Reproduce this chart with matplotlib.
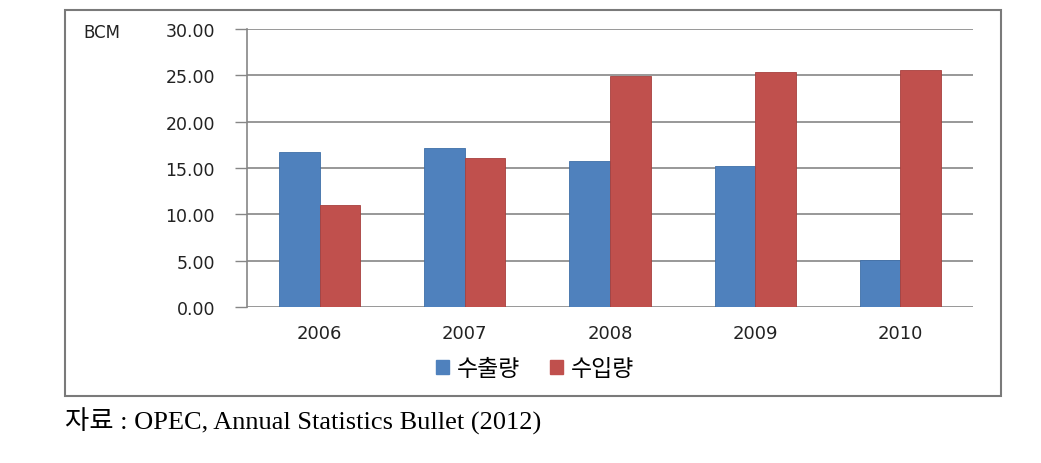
import matplotlib.pyplot as plt
import numpy as np
from matplotlib.patches import Patch, Rectangle

YEARS = ["2006", "2007", "2008", "2009", "2010"]
EXPORTS = [16.76, 17.19, 15.75, 15.17, 5.03]
IMPORTS = [10.97, 16.04, 24.93, 25.36, 25.58]
SERIES_NAMES = ["수출량", "수입량"]
Y_TICKS = [0, 5, 10, 15, 20, 25, 30]
UNIT = "BCM"
SOURCE = "자료 : OPEC, Annual Statistics Bullet (2012)"

BLUE = "#4F81BD"
RED = "#C0504D"
GRID = "#868686"

KR = ["Noto Sans CJK KR", "DejaVu Sans"]
SERIF = ["Liberation Serif", "Noto Sans CJK KR"]

fig = plt.figure(figsize=(10.41, 4.64), dpi=100)
ax = fig.add_axes([247 / 1041, 156 / 464, 726 / 1041, 278 / 464])

x = np.arange(len(YEARS))
w = 0.28
ax.bar(x - w / 2, EXPORTS, w, color=BLUE, edgecolor="#3f6fa8", linewidth=0.6, zorder=3)
ax.bar(x + w / 2, IMPORTS, w, color=RED, edgecolor="#a8403d", linewidth=0.6, zorder=3)

ax.set_xlim(-0.5, len(YEARS) - 0.5)
ax.set_ylim(0, 30)
ax.set_yticks(Y_TICKS)
ax.set_yticklabels([f"{v:.2f}" for v in Y_TICKS], fontsize=12.5, color="#222222")
ax.set_xticks(x)
ax.set_xticklabels(YEARS, fontsize=13, color="#222222")
ax.tick_params(axis="y", length=9, width=1, color=GRID, pad=14)
ax.tick_params(axis="x", length=0, pad=12)
ax.yaxis.grid(True, color=GRID, linewidth=1.2, zorder=0)
for s in ("top", "right", "bottom"):
    ax.spines[s].set_visible(False)
ax.spines["left"].set_color(GRID)
ax.spines["left"].set_linewidth(1.2)

fig.text(83 / 1041, 1 - 33 / 464, UNIT, fontsize=12, va="center", ha="left", color="#222222")

handles = [Patch(color=BLUE), Patch(color=RED)]
fig.legend(handles, SERIES_NAMES, loc="center", bbox_to_anchor=(535 / 1041, 1 - 370 / 464),
           ncol=2, frameon=False, prop={"family": KR, "size": 16.5},
           handlelength=0.55, handleheight=0.55, handletextpad=0.35, columnspacing=1.3)

fig.patches.append(Rectangle((65 / 1041, 67 / 464), 936 / 1041, 386 / 464,
                             transform=fig.transFigure, fill=False,
                             edgecolor="#7a7a7a", linewidth=1.5))

fig.text(65 / 1041, 1 - 421 / 464, SOURCE, family=SERIF, fontsize=19,
         va="center", ha="left", color="black")

fig.savefig("out.png", dpi=100)
